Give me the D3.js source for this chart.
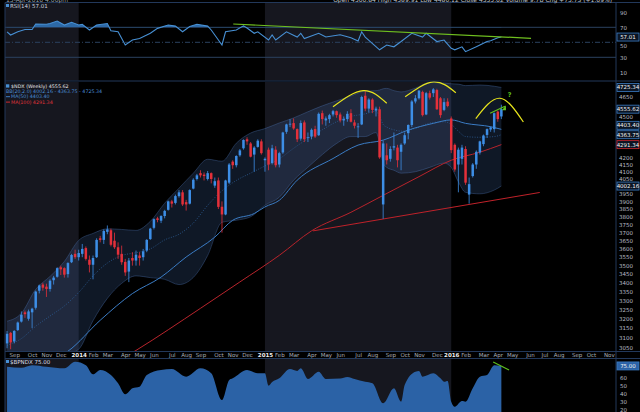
<!DOCTYPE html>
<html><head><meta charset="utf-8">
<script src="https://cdn.jsdelivr.net/npm/d3@7/dist/d3.min.js"></script>
<style>html,body{margin:0;padding:0;background:#000;overflow:hidden}svg{display:block}</style>
</head><body><svg id="chart" width="640" height="412"></svg>
<script>
// ---------------- data ----------------
const firstWeek = "2013-08-19";
// weekly [open, high, low, close] of $NDX
const ohlc = [
[3070,3135,3045,3120],[3125,3130,3040,3075],[3080,3140,3070,3135],[3140,3185,3135,3180],[3185,3240,3180,3222],
[3235,3245,3205,3225],[3200,3250,3190,3240],[3235,3260,3150,3255],[3260,3355,3250,3350],[3355,3390,3340,3385],
[3390,3400,3355,3372],[3378,3395,3320,3365],[3365,3420,3350,3412],[3415,3440,3390,3430],[3435,3490,3430,3485],
[3490,3500,3445,3478],[3485,3490,3430,3447],[3450,3520,3430,3515],[3520,3570,3515,3563],[3570,3595,3540,3550],
[3550,3595,3530,3575],[3570,3630,3550,3600],[3605,3615,3530,3540],[3535,3560,3460,3505],[3505,3560,3420,3545],
[3550,3665,3545,3655],[3665,3680,3640,3655],[3655,3720,3630,3710],[3705,3745,3690,3720],[3715,3725,3615,3625],
[3650,3700,3600,3610],[3610,3640,3540,3565],[3570,3620,3505,3520],[3522,3540,3440,3460],[3465,3545,3404,3530],
[3545,3580,3500,3530],[3530,3590,3500,3565],[3560,3580,3500,3545],[3550,3600,3530,3585],[3590,3660,3580,3655],
[3660,3730,3655,3725],[3730,3790,3720,3785],[3790,3800,3765,3780],[3775,3810,3760,3805],[3805,3845,3790,3838],
[3845,3905,3840,3900],[3900,3910,3860,3885],[3890,3945,3880,3935],[3935,3975,3925,3960],[3960,3975,3870,3880],
[3895,3910,3840,3880],[3885,3980,3880,3975],[3985,4055,3980,4045],[4050,4085,4040,4075],[4090,4110,4060,4075],
[4080,4095,4040,4070],[4050,4105,4040,4090],[4090,4095,4020,4050],[4005,4060,3990,4035],[4040,4060,3850,3864],
[3865,3900,3700,3815],[3815,4045,3810,4040],[4025,4160,4015,4150],[4170,4180,4120,4145],[4145,4215,4130,4210],
[4215,4260,4205,4250],[4265,4330,4255,4325],[4330,4345,4290,4315],[4300,4310,4200,4205],[4220,4280,4100,4270],
[4275,4330,4270,4320],[4315,4330,4220,4230],[4180,4200,4100,4190],[4255,4270,4110,4150],[4160,4290,4150,4265],
[4255,4280,4130,4145],[4150,4240,4130,4230],[4235,4385,4225,4380],[4385,4445,4370,4440],[4440,4480,4420,4445],
[4450,4485,4400,4410],[4405,4410,4310,4330],[4335,4470,4320,4450],[4455,4470,4310,4330],[4340,4380,4310,4345],
[4350,4410,4330,4400],[4405,4430,4340,4350],[4360,4530,4355,4520],[4525,4545,4440,4480],[4470,4500,4430,4485],
[4480,4520,4450,4510],[4515,4550,4500,4540],[4540,4545,4490,4510],[4515,4530,4455,4470],[4470,4500,4430,4480],
[4480,4540,4460,4520],[4525,4555,4455,4460],[4455,4475,4410,4430],[4420,4450,4340,4425],[4440,4660,4435,4650],
[4660,4695,4540,4560],[4560,4640,4530,4630],[4630,4640,4525,4550],[4545,4575,4500,4560],[4555,4575,4190,4200],
[3880,4320,3787,4300],[4215,4300,4150,4180],[4190,4280,4170,4260],[4270,4380,4250,4280],[4270,4290,4130,4180],
[4240,4300,4110,4290],[4300,4380,4290,4360],[4375,4440,4330,4436],[4436,4625,4420,4615],[4615,4665,4600,4640],
[4640,4705,4630,4700],[4690,4700,4500,4510],[4515,4690,4510,4680],[4680,4700,4630,4645],[4680,4720,4650,4710],
[4705,4715,4550,4555],[4640,4650,4490,4510],[4550,4640,4540,4610],[4614,4640,4570,4580],[4485,4500,4230,4252],
[4290,4300,4100,4115],[4150,4270,3960,4255],[4190,4290,4150,4270],[4260,4280,4010,4025],[3945,4060,3885,4015],
[4070,4160,4060,4150],[4150,4250,4120,4240],[4235,4320,4220,4315],[4295,4365,4280,4358],[4362,4410,4340,4405],
[4402,4425,4385,4418],[4405,4530,4380,4525],[4537,4545,4460,4480],[4500,4590,4480,4555.62]
];
const bbWeeks  = [0,4,8,12,16,20,24,28,32,36,40,44,48,52,56,60,64,68,72,76,80,84,88,92,96,100,103,104,105,106,108,110,114,118,122,124,126,128,132,136,138];
const bbUpper  = [3187,3230,3363,3437,3525,3652,3695,3724,3720,3714,3771,3888,3988,4090,4187,4173,4302,4376,4409,4451,4489,4536,4581,4620,4658,4697,4700,4705,4715,4718,4700,4690,4720,4765,4760,4755,4752,4740,4745,4735,4725.34];
const bbMiddle = [3060,3095,3160,3215,3270,3345,3440,3515,3560,3577,3600,3655,3690,3760,3874,3970,4040,4090,4140,4190,4265,4335,4400,4460,4500,4520,4540,4500,4440,4420,4400,4390,4410,4450,4460,4440,4390,4350,4345,4350,4363.75];
const bbLower  = [2950,2960,2975,2990,3010,3040,3190,3312,3397,3440,3430,3420,3390,3431,3560,3765,3778,3800,3875,3927,4042,4131,4220,4300,4350,4350,4380,4300,4160,4130,4110,4090,4100,4130,4160,4130,4030,3960,3950,3975,4002.16];
const ma50Weeks  = [12,17,26,35,43,50,58,63,69,72,76,81,91,98,105,112,119,124,128,135,138];
const ma50       = [2980,3030,3192,3339,3433,3551,3672,3778,3821,3864,3907,4042,4192,4288,4324,4398,4448,4474,4448,4423,4403.40];
const ma100Weeks = [32,36,54,65,76,85,96,105,115,124,132,138];
const ma100      = [2990,3034,3257,3405,3561,3711,3829,3940,4066,4180,4237,4291.34];
const rsi = [[0,64],[1,59.7],[3,64],[5,67],[7,67],[8,74.4],[11,74],[12,75],[14,78.4],[16,73],[18,76.6],[20,73],[21,74],
[23,66.4],[25,73],[28,75],[29,65.5],[31,64],[33,46.4],[35,53],[37,55],[40,62],[42,68.6],[45,73],[47,71.6],[49,64],
[51,71],[53,74],[56,71.6],[57,66.4],[59,53],[60,46.4],[61,64],[64,66.4],[66,72],[67,69],[69,62],[70,64],[73,53],
[74,59.7],[75,53],[78,64],[81,57],[82,62],[83,55],[87,62],[89,57],[93,60],[96,56],[98,51.8],[99,64],[100,57],
[104,40],[106,46.4],[108,44],[110,51],[113,62],[116,57],[117,62],[120,51],[122,53],[124,42],[125,40],[127,44],
[128,37.5],[131,44],[134,51],[135,52],[137,56],[138,57.01]];
const bpndx = [[0,74],[4,72.8],[7,76],[11,74],[16,72],[19,80.4],[22,76],[24,64.4],[26,70],[29,63.5],[31,53],[33,39],
[35,46.6],[37,48.7],[39,63.5],[43,70],[46,71],[50,61.4],[54,72],[57,65.7],[60,31.8],[62,57],[63,59.3],[67,70],
[70,65.7],[72,65.7],[73,50],[74,54.6],[76,59.3],[79,71],[81,68.6],[82,72],[84,58.5],[87,67.7],[89,58.5],[93,59],
[95,61],[97,58.5],[100,55],[102,53],[105,27.6],[108,46.6],[110,29.6],[111,50.8],[114,67.7],[115,68.6],[116,61.4],
[119,65.7],[121,59.3],[122,55],[123,56],[124,29.6],[125,23.3],[127,30.5],[128,29.6],[130,46.6],[132,61.4],[134,63.5],
[136,76],[138,75]];
const monthTicks = ["2013-09","2013-10","2013-11","2013-12","2014-01","2014-02","2014-03","2014-04","2014-05","2014-06",
"2014-07","2014-08","2014-09","2014-10","2014-11","2014-12","2015-01","2015-02","2015-03","2015-04","2015-05","2015-06",
"2015-07","2015-08","2015-09","2015-10","2015-11","2015-12","2016-01","2016-02","2016-03","2016-04","2016-05","2016-06",
"2016-07","2016-08","2016-09","2016-10","2016-11"];
const monthLabels = ["Sep","Oct","Nov","Dec","2014","Feb","Mar","Apr","May","Jun","Jul","Aug","Sep","Oct","Nov","Dec",
"2015","Feb","Mar","Apr","May","Jun","Jul","Aug","Sep","Oct","Nov","Dec","2016","Feb","Mar","Apr","May","Jun","Jul",
"Aug","Sep","Oct","Nov"];
const priceTicks = [3050,3100,3150,3200,3250,3300,3350,3400,3450,3500,3550,3600,3650,3700,3750,3800,3850,3900,3950,
4000,4050,4100,4150,4200,4250,4300,4350,4400,4450,4500,4550,4600,4650,4700,4750];
const rsiTicks = [10,30,50,70,90];
const bpTicks = [20,30,40,50,60,70,80];
const shadeYears = [["2013-08-15","2014-01-06"],["2015-01-05","2016-01-04"]];
const supportLine = [["2015-04-09",3711],["2016-06-25",3959]];
const rsiTrend = [["2014-11-04",74.4],["2016-06-08",55.3]];
const bpTrend = [["2016-03-26",80],["2016-04-26",69.9]];
const topArcs = [
  [["2015-05-18",4574],["2015-07-16",4700],["2015-08-31",4601]],
  [["2015-10-06",4652],["2015-11-30",4770],["2016-01-13",4684]],
  [["2016-02-21",4484],["2016-04-08",4640],["2016-05-24",4458]]
];
const greenMark = [["2016-03-20",4525],["2016-04-18",4578]];
const question = ["2016-04-27",4648];

// ---------------- scales ----------------
const parse = d3.timeParse("%Y-%m-%d");
const pm = d3.timeParse("%Y-%m");
const week0 = parse(firstWeek);
const wd = i => d3.timeDay.offset(week0, 7 * i);
const x = d3.scaleTime().domain([parse("2013-08-15"), parse("2016-11-21")]).range([5, 616]);
const yP = d3.scaleLog().domain([3031, 4769]).range([351, 82]);
const yR = d3.scaleLinear().domain([0, 100]).range([79.8, 4.8]);
const yB = d3.scaleLinear().domain([20, 80]).range([409.3, 362]);

const svg = d3.select("#chart");
const FONT = "'DejaVu Sans', 'Liberation Sans', sans-serif";
svg.append("rect").attr("width", 640).attr("height", 412).attr("fill", "#000");
const defs = svg.append("defs");
defs.append("clipPath").attr("id", "cpPrice").append("rect").attr("x", 5).attr("y", 82).attr("width", 611).attr("height", 269.5);
defs.append("clipPath").attr("id", "cpRsiHi").append("rect").attr("x", 5).attr("y", 3).attr("width", 611).attr("height", yR(70) - 3);
defs.append("clipPath").attr("id", "cpBp").append("rect").attr("x", 5).attr("y", 359).attr("width", 611).attr("height", 53);

// year shading
const panels = [[3, 80.5], [82, 351.5], [359, 412]];
shadeYears.forEach(([a, b]) => panels.forEach(([t, bt]) => {
  svg.append("rect").attr("x", x(parse(a))).attr("width", x(parse(b)) - x(parse(a)))
    .attr("y", t).attr("height", bt - t).attr("fill", "#16171f");
}));

// ---------------- RSI panel ----------------
const gR = svg.append("g");
[70, 30].forEach(v => gR.append("line").attr("x1", 5).attr("x2", 616).attr("y1", yR(v)).attr("y2", yR(v))
  .attr("stroke", "#2b4160").attr("stroke-width", 1));
gR.append("line").attr("x1", 5).attr("x2", 616).attr("y1", yR(50)).attr("y2", yR(50))
  .attr("stroke", "#2b4160").attr("stroke-dasharray", "5,2,1,2");
gR.append("path").datum(rsi).attr("clip-path", "url(#cpRsiHi)")
  .attr("d", d3.area().x(d => x(wd(d[0]))).y0(yR(70)).y1(d => yR(d[1])))
  .attr("fill", "#2d69a6");
gR.append("path").datum(rsi).attr("fill", "none").attr("stroke", "#4790d4").attr("stroke-width", 1.1)
  .attr("d", d3.line().x(d => x(wd(d[0]))).y(d => yR(d[1])));
gR.append("line").attr("x1", x(parse(rsiTrend[0][0]))).attr("y1", yR(rsiTrend[0][1]))
  .attr("x2", x(parse(rsiTrend[1][0]))).attr("y2", yR(rsiTrend[1][1])).attr("stroke", "#6fbf1f").attr("stroke-width", 1.2);
gR.append("rect").attr("x", 6).attr("y", 4).attr("width", 3).attr("height", 3).attr("fill", "#4790d4");
gR.append("text").attr("x", 10).attr("y", 7.5).attr("font-size", 5.5).attr("fill", "#c8d0dc").attr("font-family", FONT).text("RSI(14) 57.01");

// ---------------- price panel ----------------
const gP = svg.append("g").attr("clip-path", "url(#cpPrice)");
const bb = bbWeeks.map((w, i) => ({ d: wd(w), u: bbUpper[i], m: bbMiddle[i], l: bbLower[i] }));
const curve = d3.curveMonotoneX;
gP.append("path").datum(bb).attr("fill", "rgba(70,110,175,0.22)")
  .attr("d", d3.area().curve(curve).x(d => x(d.d)).y0(d => yP(d.l)).y1(d => yP(d.u)));
["u", "l"].forEach(k => gP.append("path").datum(bb).attr("fill", "none").attr("stroke", "rgba(80,120,185,0.45)").attr("stroke-width", 0.8)
  .attr("d", d3.line().curve(curve).x(d => x(d.d)).y(d => yP(d[k]))));
gP.append("path").datum(bb).attr("fill", "none").attr("stroke", "#2f5f98").attr("stroke-width", 0.8).attr("stroke-dasharray", "1,1.5")
  .attr("d", d3.line().curve(curve).x(d => x(d.d)).y(d => yP(d.m)));
gP.append("path").datum(ma50Weeks.map((w, i) => [wd(w), ma50[i]])).attr("fill", "none").attr("stroke", "#3b7cc4").attr("stroke-width", 1)
  .attr("d", d3.line().curve(curve).x(d => x(d[0])).y(d => yP(d[1])));
gP.append("path").datum(ma100Weeks.map((w, i) => [wd(w), ma100[i]])).attr("fill", "none").attr("stroke", "#b8242c").attr("stroke-width", 1)
  .attr("d", d3.line().curve(curve).x(d => x(d[0])).y(d => yP(d[1])));
gP.append("line").attr("x1", x(parse(supportLine[0][0]))).attr("y1", yP(supportLine[0][1]))
  .attr("x2", x(parse(supportLine[1][0]))).attr("y2", yP(supportLine[1][1])).attr("stroke", "#c0222a").attr("stroke-width", 1);

// candles
const UP = "#3d8ee6", DN = "#e4303a";
const cg = gP.selectAll("g.c").data(ohlc).join("g");
cg.append("line").attr("x1", (d, i) => x(wd(i))).attr("x2", (d, i) => x(wd(i)))
  .attr("y1", d => yP(d[1])).attr("y2", d => yP(d[2])).attr("stroke", d => d[3] >= d[0] ? UP : DN).attr("stroke-width", 0.8);
cg.append("rect").attr("x", (d, i) => x(wd(i)) - 1.25).attr("width", 2.5)
  .attr("y", d => yP(Math.max(d[0], d[3])))
  .attr("height", d => Math.max(0.8, Math.abs(yP(d[0]) - yP(d[3]))))
  .attr("fill", d => d[3] >= d[0] ? UP : DN);

// annotations
const ga = svg.append("g");
topArcs.forEach(a => ga.append("path").datum(a).attr("fill", "none").attr("stroke", "#e6e31c").attr("stroke-width", 1.2)
  .attr("d", d3.line().curve(d3.curveNatural).x(d => x(parse(d[0]))).y(d => yP(d[1]))));
ga.append("line").attr("x1", x(parse(greenMark[0][0]))).attr("y1", yP(greenMark[0][1]))
  .attr("x2", x(parse(greenMark[1][0]))).attr("y2", yP(greenMark[1][1])).attr("stroke", "#5fc21e").attr("stroke-width", 1.2);
const gx = x(parse(greenMark[1][0])), gy = yP(greenMark[1][1]);
ga.append("path").attr("d", `M${gx - 3},${gy + 4}L${gx + 1},${gy - 1}L${gx + 1},${gy + 4}Z`).attr("fill", "#5fc21e");
ga.append("text").attr("x", x(parse(question[0]))).attr("y", yP(question[1])).attr("font-size", 6.5).attr("font-weight", "bold")
  .attr("fill", "#5fc21e").attr("font-family", FONT).attr("text-anchor", "middle").text("?");

// legend
const lg = svg.append("g").attr("font-family", FONT).attr("font-size", 4.8);
lg.append("rect").attr("x", 6).attr("y", 84.3).attr("width", 3.3).attr("height", 3.3).attr("fill", "#4790d4");
lg.append("text").attr("x", 11).attr("y", 87.6).attr("fill", "#e6e6e6").text("$NDX (Weekly) 4555.62");
lg.append("text").attr("x", 6).attr("y", 93).attr("fill", "#4a8ed6").text("BB(20,2.0) 4002.16 - 4363.75 - 4725.34");
lg.append("line").attr("x1", 6).attr("x2", 10).attr("y1", 96.7).attr("y2", 96.7).attr("stroke", "#3b7cc4");
lg.append("text").attr("x", 11).attr("y", 98.4).attr("fill", "#4a8ed6").text("MA(50) 4403.40");
lg.append("line").attr("x1", 6).attr("x2", 10).attr("y1", 102.1).attr("y2", 102.1).attr("stroke", "#d02a30");
lg.append("text").attr("x", 11).attr("y", 103.8).attr("fill", "#e0343a").text("MA(100) 4291.34");

// ---------------- bottom panel ----------------
const gB = svg.append("g").attr("clip-path", "url(#cpBp)");
gB.append("path").datum(bpndx).attr("fill", "#2b62a6")
  .attr("d", d3.area().curve(d3.curveMonotoneX).x(d => x(wd(d[0]))).y0(412).y1(d => yB(d[1])));
svg.append("line").attr("x1", x(parse(bpTrend[0][0]))).attr("y1", yB(bpTrend[0][1]))
  .attr("x2", x(parse(bpTrend[1][0]))).attr("y2", yB(bpTrend[1][1])).attr("stroke", "#5fc21e").attr("stroke-width", 1.1);
svg.append("rect").attr("x", 6).attr("y", 360).attr("width", 3).attr("height", 3).attr("fill", "#4790d4");
svg.append("text").attr("x", 10).attr("y", 363.5).attr("font-size", 5.5).attr("fill", "#d8dde6").attr("font-family", FONT).text("$BPNDX 75.00");

// ---------------- frames ----------------
const fr = svg.append("g").attr("stroke", "#22385a").attr("stroke-width", 1);
[2.5, 81, 351.5, 358.5].forEach(y => fr.append("line").attr("x1", 5).attr("x2", 640).attr("y1", y).attr("y2", y));
[5, 616].forEach(xx => fr.append("line").attr("x1", xx).attr("x2", xx).attr("y1", 2.5).attr("y2", 412));

// ---------------- value boxes (positions) ----------------
const boxes = [
  { v: bbUpper[bbUpper.length - 1], c: "#3b7cc4" },
  { v: ohlc[ohlc.length - 1][3], c: "#3b7cc4" },
  { v: ma50[ma50.length - 1], c: "#3b7cc4" },
  { v: bbMiddle[bbMiddle.length - 1], c: "#3b7cc4" },
  { v: ma100[ma100.length - 1], c: "#d0282f" },
  { v: bbLower[bbLower.length - 1], c: "#3b7cc4" }
].map(b => ({ ...b, y: yP(b.v) }));
boxes.sort((a, b) => b.y - a.y);
for (let i = 1; i < boxes.length; i++) if (boxes[i - 1].y - boxes[i].y < 9.4) boxes[i].y = boxes[i - 1].y - 9.4;
const priceBoxYs = boxes.map(b => b.y);
boxes.push({ v: rsi[rsi.length - 1][1], y: yR(rsi[rsi.length - 1][1]), c: "#3b7cc4" });
boxes.push({ v: bpndx[bpndx.length - 1][1], y: yB(bpndx[bpndx.length - 1][1]), c: "#3b7cc4", fill: "#2b62a6" });

// ---------------- axes ----------------
function styleAxis(g, size, fill) {
  g.select(".domain").remove();
  g.selectAll("text").attr("font-family", FONT).attr("font-size", size).attr("fill", fill);
}
const xAxis = d3.axisBottom(x).tickValues(monthTicks.map(m => d3.timeMonday.ceil(pm(m))))
  .tickFormat((d, i) => monthLabels[i]).tickSize(0).tickPadding(1.5);
const gxA = svg.append("g").attr("transform", "translate(0,351.5)").call(xAxis);
styleAxis(gxA, 5.5, "#a9aeb6");
gxA.selectAll("text").filter(t => t.getMonth() === 0).attr("fill", "#f0f0f0").attr("font-weight", "bold");

const gyP = svg.append("g").attr("transform", "translate(616,0)")
  .call(d3.axisRight(yP).tickValues(priceTicks).tickFormat(d3.format("d")).tickSize(0).tickPadding(3));
styleAxis(gyP, 5.5, "#b8bcc4");
gyP.selectAll(".tick").filter(t => priceBoxYs.some(by => Math.abs(yP(t) - by) < 6.5)).remove();
const gyR = svg.append("g").attr("transform", "translate(616,0)")
  .call(d3.axisRight(yR).tickValues(rsiTicks).tickSize(0).tickPadding(4));
styleAxis(gyR, 5.5, "#b8bcc4");
const rsiBoxY = yR(rsi[rsi.length - 1][1]);
gyR.selectAll(".tick").filter(t => Math.abs(yR(t) - rsiBoxY) < 6).select("text").attr("dy", "0.9em");
const gyB = svg.append("g").attr("transform", "translate(616,0)")
  .call(d3.axisRight(yB).tickValues(bpTicks).tickSize(0).tickPadding(4));
styleAxis(gyB, 5.5, "#b8bcc4");
const bpBoxY = yB(bpndx[bpndx.length - 1][1]);
gyB.selectAll(".tick").filter(t => Math.abs(yB(t) - bpBoxY) < 5).remove();

const vb = svg.append("g");
boxes.forEach(b => {
  vb.append("rect").attr("x", 617).attr("y", b.y - 4).attr("width", 22).attr("height", 8)
    .attr("fill", b.fill || "#0b1524").attr("stroke", b.c).attr("stroke-width", 0.8);
  vb.append("text").attr("x", 628).attr("y", b.y + 2).attr("text-anchor", "middle").attr("font-size", 5.5)
    .attr("font-family", FONT).attr("fill", "#f2f2f2").text(d3.format(".2f")(b.v));
});

// header line (cut by the top edge, as in the source)
svg.append("text").attr("x", 6).attr("y", 2).attr("font-size", 6).attr("fill", "#9aa0a8").attr("font-family", FONT).text("15-Apr-2016 4:00pm");
svg.append("text").attr("x", 612).attr("y", 2).attr("text-anchor", "end").attr("font-size", 6).attr("fill", "#c0c4ca").attr("font-family", FONT)
  .text("Open 4500.84  High 4589.91  Low 4480.12  Close 4555.62  Volume 9.7B  Chg +75.73 (+1.69%)");
</script></body></html>
